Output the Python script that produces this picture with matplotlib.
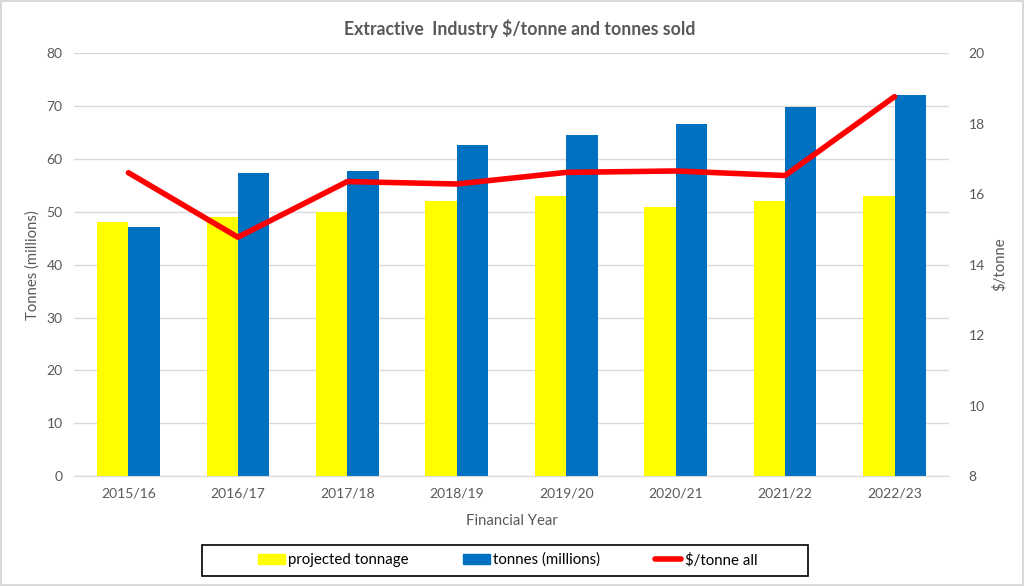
import matplotlib
matplotlib.use("Agg")
import matplotlib.pyplot as plt
import numpy as np
from matplotlib.patches import Patch, Rectangle
from matplotlib.lines import Line2D

years = ["2015/16", "2016/17", "2017/18", "2018/19", "2019/20", "2020/21", "2021/22", "2022/23"]
projected = [48, 49, 50, 52, 53, 51, 52, 53]
tonnes = [47.2, 57.4, 57.7, 62.6, 64.5, 66.6, 69.8, 72.2]
price = [16.61, 14.78, 16.36, 16.29, 16.62, 16.66, 16.53, 18.77]

plt.rcParams['font.family'] = ['Lato', 'DejaVu Sans']
grey = "#595959"

fig = plt.figure(figsize=(10.24, 5.86), dpi=100)
fig.patch.set_edgecolor("#d9d9d9")
fig.patch.set_linewidth(1.5)
ax = fig.add_axes([0.072, 0.1877, 0.855, 0.7213])
x = np.arange(len(years))
w = 0.286
ax.bar(x - w / 2, projected, w, color="#ffff00", zorder=2)
ax.bar(x + w / 2, tonnes, w, color="#0070c0", zorder=2)
ax.set_xlim(-0.5, len(years) - 0.5)
ax.set_ylim(0, 80)
ax.set_yticks(range(0, 81, 10))
ax.grid(axis="y", color="#d9d9d9", linewidth=1, zorder=0)
ax.set_axisbelow(True)
for s in ["top", "right", "left"]:
    ax.spines[s].set_visible(False)
ax.spines["bottom"].set_color("#d9d9d9")
ax.set_xticks(x)
ax.set_xticklabels(years)
ax.tick_params(axis="both", length=0, labelsize=10, colors=grey, pad=8)
ax.set_ylabel("Tonnes (millions)", fontsize=10.7, color=grey, labelpad=5)
ax.set_xlabel("Financial Year", fontsize=10.7, color=grey, labelpad=11)

ax2 = ax.twinx()
ax2.plot(x, price, color="#ff0000", linewidth=4, solid_capstyle="round", zorder=3)
ax2.set_ylim(8, 20)
ax2.set_yticks(range(8, 21, 2))
for s in ["top", "right", "left", "bottom"]:
    ax2.spines[s].set_visible(False)
ax2.tick_params(axis="y", length=0, labelsize=10, colors=grey, pad=14)
ax2.set_ylabel(r"\$/tonne", fontsize=10.7, color=grey, labelpad=5)

fig.text(0.508, 0.952, r"Extractive  Industry \$/tonne and tonnes sold", ha="center", va="center",
         fontsize=12.7, fontweight="bold", color=grey)

handles = [Patch(color="#ffff00"), Patch(color="#0070c0"),
           Line2D([0], [0], color="#ff0000", linewidth=4, solid_capstyle="round")]
labels = ["projected tonnage", "tonnes (millions)", r"\$/tonne all"]
fig.legend(handles, labels, loc="center", bbox_to_anchor=(0.496, 0.0445), ncol=3, frameon=False,
           fontsize=10.85, handlelength=1.75, handletextpad=0.25, columnspacing=3.6)
fig.add_artist(Rectangle((0.197, 0.017), 0.592, 0.053, transform=fig.transFigure,
                         fill=False, edgecolor="black", linewidth=1.2))

fig.savefig("out.png", dpi=100)
